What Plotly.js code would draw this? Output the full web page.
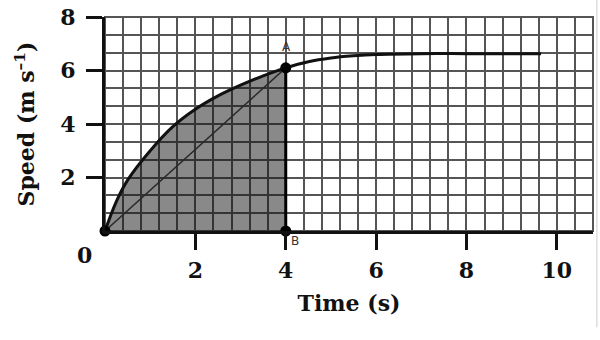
<!DOCTYPE html>
<html>
<head>
<meta charset="utf-8">
<script src="https://cdn.plot.ly/plotly-3.0.1.min.js"></script>
<style>html,body{margin:0;padding:0;background:#fff}#chart{width:600px;height:340px}</style>
</head>
<body>
<div id="chart"></div>
<script>
// Speed–time curve
const timeS  = [0, 0.25, 0.5, 1, 1.5, 2, 2.5, 3, 3.5, 4, 4.5, 5, 5.5, 6, 7, 8, 9, 9.65];
const speed  = [0, 1.1, 1.9, 3.0, 3.9, 4.55, 5.05, 5.45, 5.8, 6.1, 6.33, 6.47, 6.55, 6.6, 6.63, 6.63, 6.63, 6.63];
// Marked points
const pointT = [0, 4, 4];
const pointV = [0, 6.1, 0];
const pointLabels = ['0', 'A', 'B'];
const xTicks = [2, 4, 6, 8, 10];
const yTicks = [2, 4, 6, 8];

const areaT = timeS.filter(t => t <= 4);
const areaV = speed.slice(0, areaT.length);

const gridCol = '#555';
const serif = '"DejaVu Serif", "Liberation Serif", serif';
const boldFont = {family: serif, size: 22, weight: 'bold', color: '#111'};
const smallFont = {family: 'DejaVu Sans, sans-serif', size: 12, color: '#333'};

const traces = [
  { x: areaT, y: areaV, type: 'scatter', mode: 'lines', fill: 'tozeroy',
    fillcolor: 'rgba(20,20,20,0.5)', line: {width: 0, shape: 'spline'}, hoverinfo: 'skip' },
  { x: [pointT[0], pointT[1]], y: [pointV[0], pointV[1]], type: 'scatter', mode: 'lines',
    line: {color: '#2a2a2a', width: 1.5} },
  { x: [pointT[2], pointT[1]], y: [pointV[2], pointV[1]], type: 'scatter', mode: 'lines',
    line: {color: '#000', width: 3} },
  { x: timeS, y: speed, type: 'scatter', mode: 'lines',
    line: {color: '#111', width: 3, shape: 'spline'} },
  { x: pointT, y: pointV, type: 'scatter', mode: 'markers',
    marker: {color: '#000', size: 11}, cliponaxis: false }
];

const layout = {
  width: 600, height: 340,
  margin: {l: 105, r: 7, t: 17, b: 109},
  paper_bgcolor: '#fff', plot_bgcolor: '#fff',
  showlegend: false,
  font: {family: serif, color: '#111'},
  xaxis: {
    range: [0, 10.8], tickmode: 'array', tickvals: xTicks,
    ticks: 'outside', ticklen: 16, tickwidth: 3, tickcolor: '#111',
    ticklabelstandoff: 2,
    tickfont: boldFont,
    showline: true, linecolor: '#111', linewidth: 3,
    showgrid: true, gridcolor: gridCol, gridwidth: 2, zeroline: false,
    minor: {tickmode: 'linear', tick0: 0, dtick: 0.4, showgrid: true, gridcolor: gridCol, gridwidth: 2, ticks: ''},
    title: {text: 'Time (s)', font: boldFont, standoff: 14}
  },
  yaxis: {
    range: [0, 8], tickmode: 'array', tickvals: yTicks,
    ticks: 'outside', ticklen: 16, tickwidth: 3, tickcolor: '#111',
    ticklabelstandoff: 6,
    tickfont: boldFont,
    showline: true, linecolor: '#111', linewidth: 3,
    showgrid: true, gridcolor: gridCol, gridwidth: 2, zeroline: false,
    minor: {tickmode: 'linear', tick0: 0, dtick: 2/3, showgrid: true, gridcolor: gridCol, gridwidth: 2, ticks: ''},
    title: {text: 'Speed (m s<sup>–1</sup>)', font: boldFont, standoff: 20}
  },
  shapes: [
    {type: 'rect', xref: 'paper', yref: 'paper', x0: 0, x1: 1, y0: 0, y1: 1,
     line: {color: gridCol, width: 2}, layer: 'below'},
    {type: 'line', xref: 'paper', yref: 'paper', x0: 1.008, x1: 1.008, y0: -0.45, y1: 1.08,
     line: {color: '#ccc', width: 1}}
  ],
  annotations: [
    {x: -0.041, y: -0.112, xref: 'paper', yref: 'paper', xanchor: 'center', yanchor: 'middle',
     text: pointLabels[0], showarrow: false, font: boldFont},
    {x: 0.372, y: 0.86, xref: 'paper', yref: 'paper', xanchor: 'center', yanchor: 'middle',
     text: pointLabels[1], showarrow: false, font: smallFont},
    {x: 0.389, y: -0.045, xref: 'paper', yref: 'paper', xanchor: 'center', yanchor: 'middle',
     text: pointLabels[2], showarrow: false, font: smallFont}
  ]
};

Plotly.newPlot('chart', traces, layout, {staticPlot: true, displayModeBar: false});
</script>
</body>
</html>
